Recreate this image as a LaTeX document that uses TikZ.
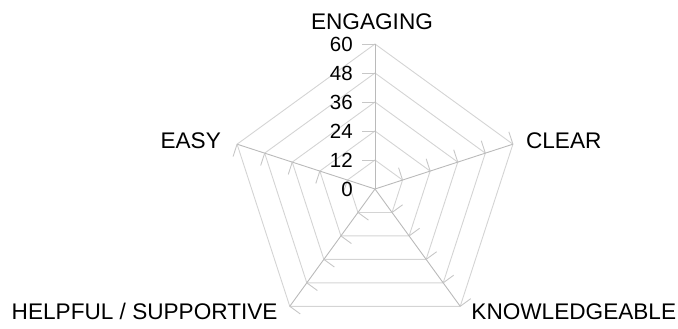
\documentclass[tikz,border=0pt]{standalone}
\usepackage{fontspec}
\setmainfont{Liberation Sans}
\usetikzlibrary{positioning}

\begin{document}
\begin{tikzpicture}[x=1pt, y=1pt,
grid/.style={draw=black!17, line width=0.9pt},
spoke/.style={draw=black!27, line width=0.9pt},
tickmark/.style={draw=black!22, line width=0.9pt},
axisLabel/.style={inner sep=0pt, font=\fontsize{22.6}{27}\selectfont},
scaleLabel/.style={inner sep=0pt, anchor=east, font=\fontsize{20.5}{24}\selectfont},
]
\useasboundingbox (-375,-140) rectangle (303,189);

%Centre and axis ends
\coordinate (c) at (0,0);
\foreach \i/\a in {1/90,2/18,3/-54,4/-126,5/162}
  \coordinate (a\i) at (\a:145);

%Grid
\foreach \r in {29,58,87,116,145}
  \draw[grid] (90:\r) -- (18:\r) -- (-54:\r) -- (-126:\r) -- (162:\r) -- cycle;

%Axes
\foreach \i in {1,...,5}
  \draw[spoke] (c) -- (a\i);

%Ticks
\foreach \a in {90,18,-54,-126,162}
  \foreach \r in {29,58,87,116,145}
    \draw[tickmark] (\a:\r) -- ++(\a+90:13);

%Scale labels
\foreach \v [count=\k from 0] in {0,12,24,36,48,60}
  \node[scaleLabel] (s\v) at (-22,\k*29) {\v};

%Axis labels
\node[axisLabel] (engaging) [above=14.2pt of a1, xshift=-3pt] {ENGAGING};
\node[axisLabel] (clear) [right=13pt of a2, yshift=3pt] {CLEAR};
\node[axisLabel] (knowledgeable) [right=11pt of a3, yshift=-5.4pt] {KNOWLEDGEABLE};
\node[axisLabel] (helpful) [left=12pt of a4, yshift=-5.4pt] {HELPFUL / SUPPORTIVE};
\node[axisLabel] (easy) [left=16pt of a5, yshift=3pt] {EASY};
\end{tikzpicture}
\end{document}
